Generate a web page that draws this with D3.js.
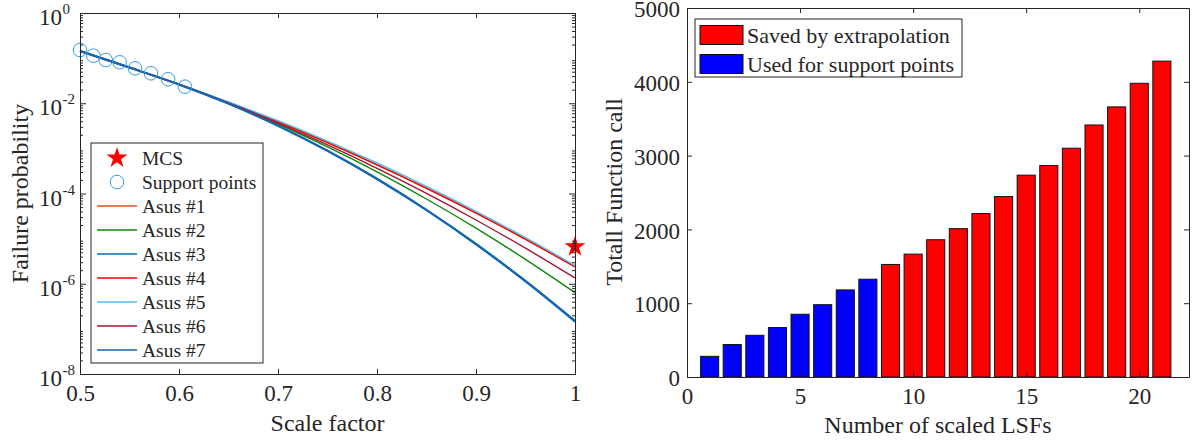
<!DOCTYPE html>
<html>
<head>
<script src="https://cdn.jsdelivr.net/npm/d3@7"></script>
<style>
  body { margin: 0; background: #fff; }
  svg text { font-family: 'Liberation Serif', 'Times New Roman', serif; }
  .axis path, .axis line { stroke: #262626; fill: none; }
  .axis text { fill: #262626; font-size: 23px; }
  .lbl { fill: #262626; font-size: 24px; }
</style>
</head>
<body>
<svg width="1192" height="440"></svg>
<script>
// ---- left chart data: failure probability vs scale factor ----
var scaleFactor = [0.5, 0.55, 0.6, 0.65, 0.7, 0.75, 0.8, 0.85, 0.9, 0.95, 1.0];
var asus1 = [0.1439, 0.0619, 0.0261, 0.01045, 3.890e-3, 1.349e-3, 4.385e-4, 1.324e-4, 3.758e-5, 9.886e-6, 2.410e-6];
var asus2 = [0.1439, 0.0619, 0.0261, 0.01002, 3.467e-3, 1.079e-3, 3.027e-4, 7.551e-5, 1.710e-5, 3.467e-6, 6.339e-7];
var asus3 = [0.1439, 0.0619, 0.0261, 9.795e-3, 3.162e-3, 8.770e-4, 2.084e-4, 4.256e-5, 7.447e-6, 1.119e-6, 1.442e-7];
var asus4 = [0.1439, 0.0619, 0.0261, 0.01040, 3.864e-3, 1.337e-3, 4.325e-4, 1.303e-4, 3.681e-5, 9.661e-6, 2.350e-6];
var asus5 = [0.1439, 0.0619, 0.0261, 0.01072, 4.102e-3, 1.449e-3, 4.742e-4, 1.435e-4, 4.036e-5, 1.054e-5, 2.535e-6];
var asus6 = [0.1439, 0.0619, 0.0261, 0.01014, 3.614e-3, 1.189e-3, 3.614e-4, 1.005e-4, 2.588e-5, 6.138e-6, 1.340e-6];
var asus7 = [0.1439, 0.0619, 0.0261, 9.840e-3, 3.199e-3, 8.913e-4, 2.128e-4, 4.365e-5, 7.674e-6, 1.161e-6, 1.507e-7];
var asusNames = ['Asus #1', 'Asus #2', 'Asus #3', 'Asus #4', 'Asus #5', 'Asus #6', 'Asus #7'];
var asusColors = ['#D95319', '#0a8a0a', '#0072BD', '#FF0000', '#4DBEEE', '#A2142F', '#1565B0'];
var supportX = [0.5, 0.5135, 0.526, 0.540, 0.5556, 0.5717, 0.589, 0.606];
var supportP = [0.151, 0.113, 0.0908, 0.0808, 0.0595, 0.0461, 0.034, 0.0233];
var mcsX = 1.0;
var mcsP = 6.6e-6;
var xTicksLeft = [0.5, 0.6, 0.7, 0.8, 0.9, 1];
var yExpLeft = [-8, -6, -4, -2, 0];

// ---- right chart data: function calls per number of LSFs ----
var lsfNumber = [1,2,3,4,5,6,7,8,9,10,11,12,13,14,15,16,17,18,19,20,21];
var funcCalls = [280, 440, 565, 670, 850, 980, 1180, 1325, 1525, 1665, 1860, 2010, 2215, 2445, 2735, 2865, 3100, 3415, 3660, 3980, 4280];
var nSupport = 8;
var legendRight = ['Saved by extrapolation', 'Used for support points'];
var xTicksRight = [0, 5, 10, 15, 20];
var yTicksRight = [0, 1000, 2000, 3000, 4000, 5000];

var svg = d3.select('svg');
var ink = '#262626';
var serif = "'Liberation Serif', 'Times New Roman', serif";

// d3 axis puts sans-serif on its group, drop it so the serif font is used
function fixAxis(g) {
  g.attr('font-family', null).attr('font-size', null);
  g.selectAll('text').style('font-family', serif);
}

// ================= left chart =================
var xL = d3.scaleLinear().domain([0.5, 1]).range([80, 575]);
var yL = d3.scaleLog().domain([1e-8, 1]).range([374, 13]);

var minors = [];
for (var e = -8; e < 0; e++) {
  for (var m = 2; m <= 9; m++) minors.push(m * Math.pow(10, e));
}
var majors = yExpLeft.map(function (k) { return Math.pow(10, k); });

var left = svg.append('g');

// curves
var line = d3.line()
  .x(function (d) { return xL(d[0]); })
  .y(function (d) { return yL(d[1]); })
  .curve(d3.curveMonotoneX);
var series = [asus1, asus2, asus3, asus4, asus5, asus6, asus7];
series.forEach(function (s, i) {
  left.append('path')
    .attr('d', line(scaleFactor.map(function (x, j) { return [x, s[j]]; })))
    .attr('fill', 'none')
    .attr('stroke', asusColors[i])
    .attr('stroke-width', (i === 2 || i === 6) ? 2 : 1.4);
});

// support points
left.selectAll('circle.sp')
  .data(supportX)
  .enter()
  .append('circle')
  .attr('class', 'sp')
  .attr('cx', function (d) { return xL(d); })
  .attr('cy', function (d, i) { return yL(supportP[i]); })
  .attr('r', 6.8)
  .attr('fill', 'none')
  .attr('stroke', '#3399dd')
  .attr('stroke-width', 1);

// MCS star
var star = d3.symbol().type(d3.symbolStar).size(136);
left.append('path')
  .attr('d', star())
  .attr('transform', 'translate(' + xL(mcsX) + ',' + yL(mcsP) + ')')
  .attr('fill', '#FF0000');

// axes
left.append('g').attr('class', 'axis')
  .attr('transform', 'translate(0,374)')
  .call(d3.axisBottom(xL).tickValues(xTicksLeft).tickSizeInner(-5).tickSizeOuter(0).tickPadding(11)
    .tickFormat(function (d) { return d === 1 ? '1' : d.toFixed(1); }))
  .call(fixAxis);
left.append('g').attr('class', 'axis')
  .attr('transform', 'translate(0,13)')
  .call(d3.axisTop(xL).tickValues(xTicksLeft).tickSizeInner(-5).tickSizeOuter(0).tickFormat(''));
left.append('g').attr('class', 'axis')
  .attr('transform', 'translate(80,0)')
  .call(d3.axisLeft(yL).tickValues(majors).tickSizeInner(-6).tickSizeOuter(0).tickFormat(''));
left.append('g').attr('class', 'axis')
  .attr('transform', 'translate(80,0)')
  .call(d3.axisLeft(yL).tickValues(minors).tickSizeInner(-3).tickSizeOuter(0).tickFormat(''));
left.append('g').attr('class', 'axis')
  .attr('transform', 'translate(575,0)')
  .call(d3.axisRight(yL).tickValues(majors).tickSizeInner(-6).tickSizeOuter(0).tickFormat(''));
left.append('g').attr('class', 'axis')
  .attr('transform', 'translate(575,0)')
  .call(d3.axisRight(yL).tickValues(minors).tickSizeInner(-3).tickSizeOuter(0).tickFormat(''));

// log tick labels 10^k
yExpLeft.forEach(function (k) {
  var yy = yL(Math.pow(10, k));
  left.append('text').attr('x', 62).attr('y', yy + 12)
    .attr('text-anchor', 'end').attr('fill', ink).style('font-size', '23px').text('10');
  left.append('text').attr('x', 62.5).attr('y', yy + 1)
    .attr('fill', ink).style('font-size', '15px').text(String(k));
});

left.append('text').attr('class', 'lbl')
  .attr('x', 327.5).attr('y', 431).attr('text-anchor', 'middle').text('Scale factor');
left.append('text').attr('class', 'lbl')
  .attr('transform', 'translate(28,193.5) rotate(-90)').attr('text-anchor', 'middle')
  .text('Failure probability');

// left legend
var lg = left.append('g');
lg.append('rect').attr('x', 91).attr('y', 143).attr('width', 172).attr('height', 220)
  .attr('fill', '#fff').attr('stroke', ink).attr('stroke-width', 1);
var rowY = function (i) { return 158 + i * 24; };
lg.append('path').attr('d', star()).attr('transform', 'translate(117,' + rowY(0) + ')').attr('fill', '#FF0000');
lg.append('circle').attr('cx', 117).attr('cy', rowY(1)).attr('r', 6.8)
  .attr('fill', 'none').attr('stroke', '#3399dd');
var legendNames = ['MCS', 'Support points'].concat(asusNames);
asusNames.forEach(function (n, i) {
  lg.append('line').attr('x1', 97).attr('x2', 137)
    .attr('y1', rowY(i + 2)).attr('y2', rowY(i + 2))
    .attr('stroke', asusColors[i]).attr('stroke-width', 1.4);
});
legendNames.forEach(function (n, i) {
  lg.append('text').attr('x', 142).attr('y', rowY(i) + 6.5)
    .attr('fill', ink).style('font-size', '19.5px').text(n);
});

// ================= right chart =================
var xR = d3.scaleLinear().domain([0, 22.2]).range([687, 1189]);
var yR = d3.scaleLinear().domain([0, 5000]).range([377, 8]);
var bw = xR(0.8) - xR(0);

var right = svg.append('g');
right.selectAll('rect.bar')
  .data(funcCalls)
  .enter()
  .append('rect')
  .attr('class', 'bar')
  .attr('x', function (d, i) { return xR(lsfNumber[i]) - bw / 2; })
  .attr('y', function (d) { return yR(d); })
  .attr('width', bw)
  .attr('height', function (d) { return yR(0) - yR(d); })
  .attr('fill', function (d, i) { return lsfNumber[i] <= nSupport ? '#0000FF' : '#FF0000'; })
  .attr('stroke', '#111')
  .attr('stroke-width', 1);

right.append('g').attr('class', 'axis')
  .attr('transform', 'translate(0,377)')
  .call(d3.axisBottom(xR).tickValues(xTicksRight).tickSizeInner(-5).tickSizeOuter(0).tickPadding(11)
    .tickFormat(d3.format('d')))
  .call(fixAxis);
right.append('g').attr('class', 'axis')
  .attr('transform', 'translate(0,8)')
  .call(d3.axisTop(xR).tickValues(xTicksRight).tickSizeInner(-5).tickSizeOuter(0).tickFormat(''));
right.append('g').attr('class', 'axis')
  .attr('transform', 'translate(687,0)')
  .call(d3.axisLeft(yR).tickValues(yTicksRight).tickSizeInner(-5).tickSizeOuter(0).tickPadding(7)
    .tickFormat(d3.format('d')))
  .call(fixAxis)
  .call(function (g) { g.selectAll('text').attr('dy', '0.38em'); });
right.append('g').attr('class', 'axis')
  .attr('transform', 'translate(1189,0)')
  .call(d3.axisRight(yR).tickValues(yTicksRight).tickSizeInner(-5).tickSizeOuter(0).tickFormat(''));

right.append('text').attr('class', 'lbl')
  .attr('x', 938).attr('y', 433).attr('text-anchor', 'middle').text('Number of scaled LSFs');
right.append('text').attr('class', 'lbl')
  .attr('transform', 'translate(622,192) rotate(-90)').attr('text-anchor', 'middle')
  .text('Totall Function call');

// right legend
var rg = right.append('g');
rg.append('rect').attr('x', 695).attr('y', 19).attr('width', 267).attr('height', 58)
  .attr('fill', '#fff').attr('stroke', ink).attr('stroke-width', 1);
var legendColors = ['#FF0000', '#0000FF'];
legendRight.forEach(function (t, i) {
  var cy = 35 + i * 29;
  rg.append('rect').attr('x', 700).attr('y', cy - 9.5).attr('width', 43).attr('height', 19)
    .attr('fill', legendColors[i]).attr('stroke', '#111').attr('stroke-width', 1);
  rg.append('text').attr('x', 747).attr('y', cy + 8)
    .attr('fill', ink).style('font-size', '22px').text(t);
});
</script>
</body>
</html>
